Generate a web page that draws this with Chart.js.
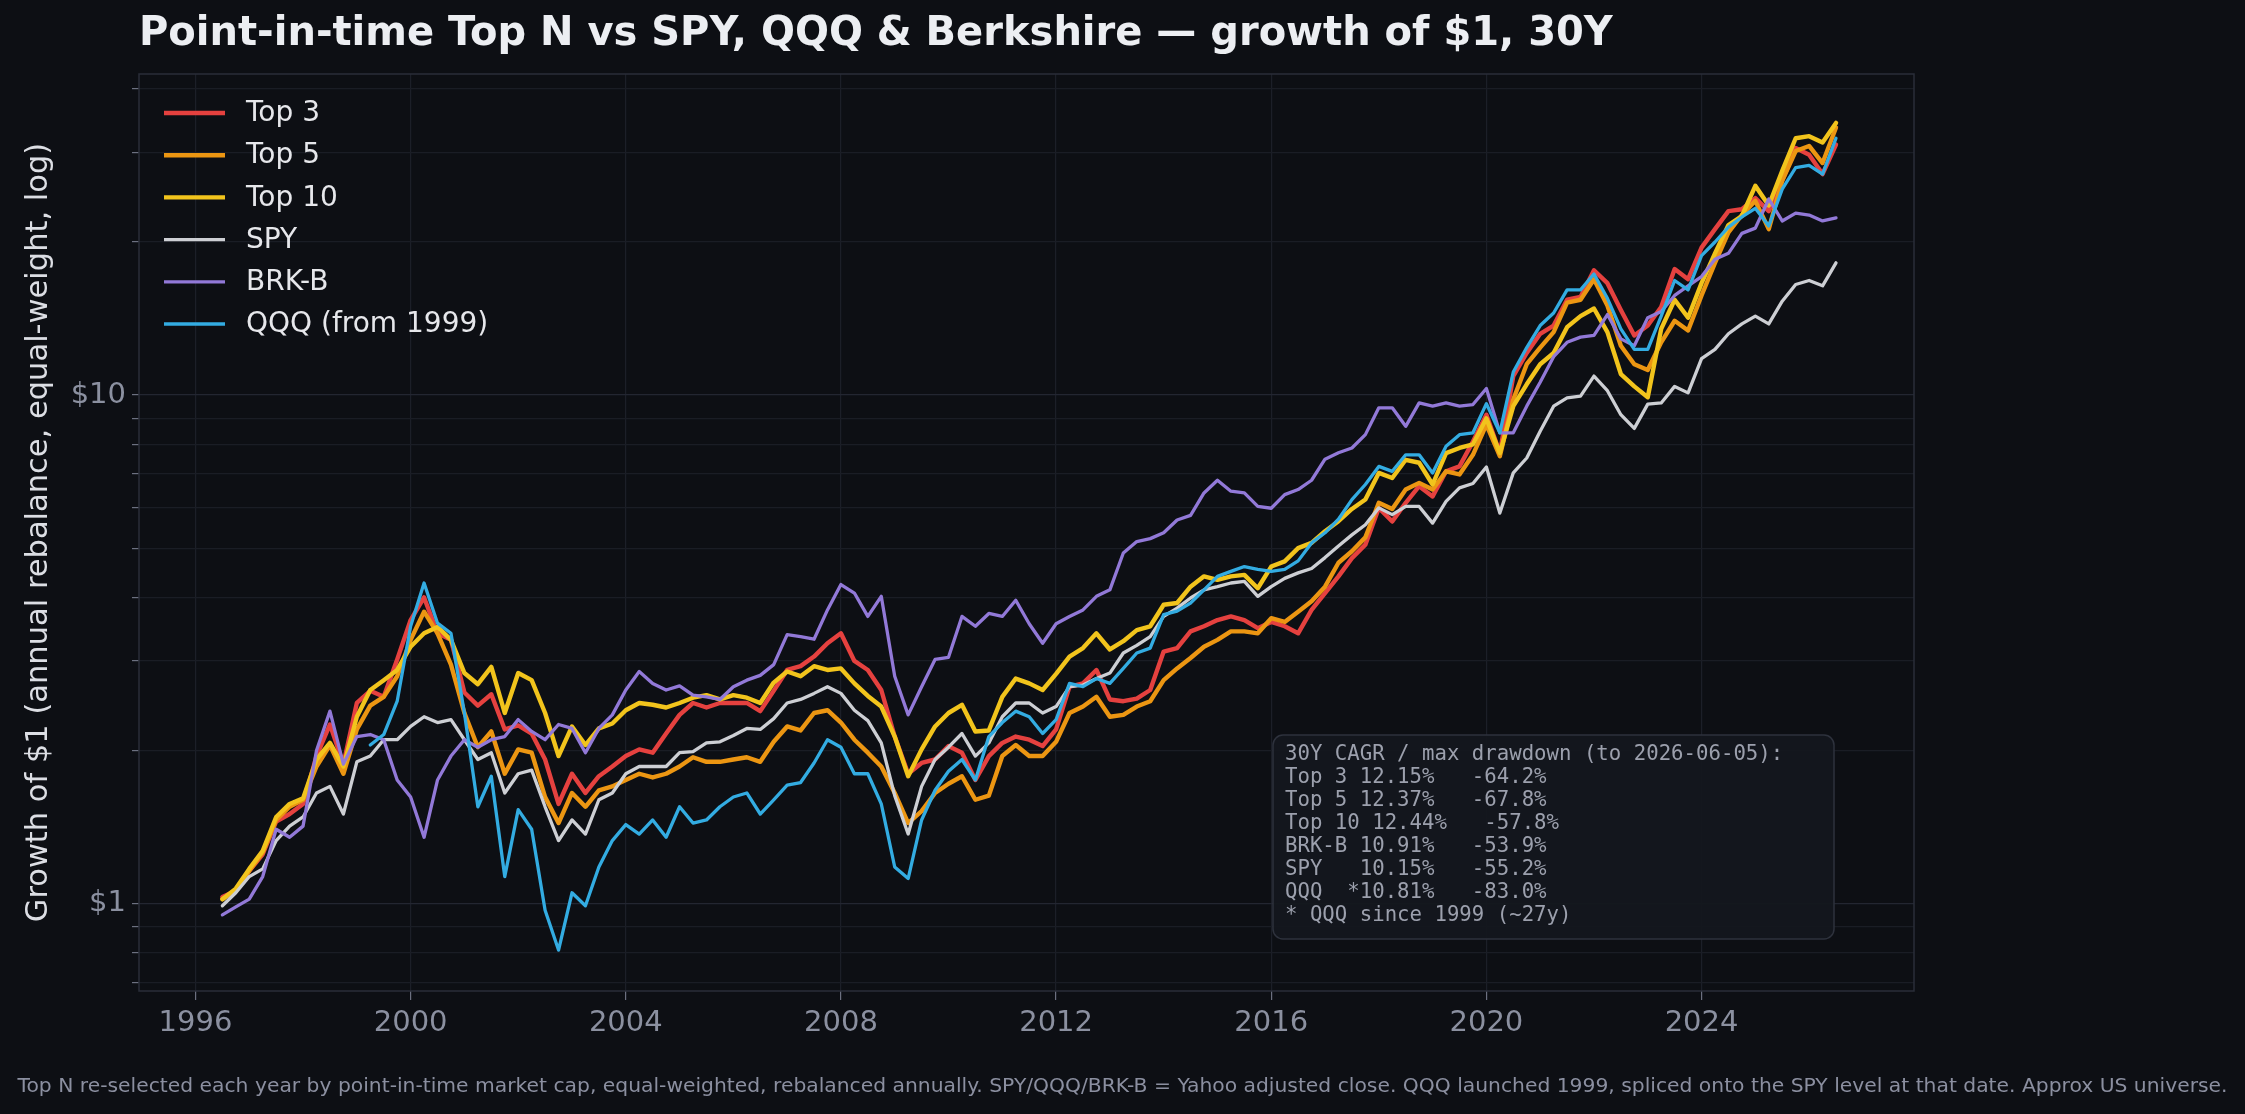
<!DOCTYPE html>
<html>
<head>
<meta charset="utf-8">
<title>Point-in-time Top N vs SPY, QQQ & Berkshire</title>
<script src="https://cdn.jsdelivr.net/npm/chart.js@4.4.1/dist/chart.umd.min.js"></script>
<style>
  html, body { margin: 0; padding: 0; background: #0d0f14; }
  #wrap { width: 2245px; height: 1114px; }
</style>
</head>
<body>
<div id="wrap"><canvas id="growthChart" width="2245" height="1114"></canvas></div>
<script>
// Growth of $1 (mid-1996 .. mid-2026)
const startYear = 1996.5;
const stepYears = 0.25;

const top3 = [
  1.03, 1.06, 1.16, 1.25, 1.45, 1.50, 1.57, 1.95,
  2.25, 1.88, 2.48, 2.62, 2.55, 3.02, 3.61, 4.00,
  3.40, 3.30, 2.60, 2.45, 2.58, 2.20, 2.24, 2.16,
  1.92, 1.57, 1.80, 1.65, 1.78, 1.86, 1.95, 2.01,
  1.98, 2.16, 2.35, 2.48, 2.43, 2.48, 2.48, 2.48,
  2.39, 2.62, 2.88, 2.93, 3.06, 3.25, 3.40, 3.00,
  2.88, 2.63, 2.13, 1.80, 1.89, 1.92, 2.04, 1.98,
  1.75, 1.95, 2.07, 2.13, 2.10, 2.04, 2.20, 2.67,
  2.71, 2.88, 2.52, 2.50, 2.53, 2.63, 3.13, 3.18,
  3.43, 3.51, 3.61, 3.67, 3.61, 3.48, 3.58, 3.51,
  3.40, 3.78, 4.08, 4.40, 4.78, 5.08, 6.00, 5.64,
  6.14, 6.62, 6.32, 7.08, 7.24, 8.10, 9.15, 7.69,
  10.9, 12.1, 13.2, 13.7, 15.4, 15.6, 17.6, 16.6,
  14.7, 13.1, 13.7, 14.9, 17.7, 16.9, 19.5, 21.2,
  23.0, 23.2, 24.4, 23.0, 26.4, 30.6, 29.7, 27.2,
  31.1
];

const top5 = [
  1.02, 1.06, 1.16, 1.26, 1.46, 1.55, 1.60, 1.86,
  2.05, 1.80, 2.20, 2.45, 2.55, 2.80, 3.30, 3.75,
  3.40, 2.95, 2.37, 2.03, 2.18, 1.80, 2.01, 1.98,
  1.62, 1.44, 1.65, 1.55, 1.67, 1.70, 1.75, 1.80,
  1.77, 1.80, 1.86, 1.94, 1.90, 1.90, 1.92, 1.94,
  1.90, 2.08, 2.23, 2.19, 2.37, 2.40, 2.27, 2.10,
  1.98, 1.86, 1.65, 1.44, 1.52, 1.65, 1.72, 1.78,
  1.60, 1.63, 1.95, 2.05, 1.95, 1.95, 2.08, 2.37,
  2.44, 2.55, 2.33, 2.35, 2.44, 2.50, 2.75, 2.90,
  3.04, 3.20, 3.30, 3.43, 3.43, 3.40, 3.64, 3.58,
  3.75, 3.93, 4.20, 4.68, 4.93, 5.25, 6.14, 5.97,
  6.52, 6.72, 6.52, 7.08, 6.98, 7.63, 8.75, 7.58,
  9.80, 11.5, 12.4, 13.3, 15.2, 15.4, 16.9, 15.0,
  12.5, 11.5, 11.2, 12.7, 14.0, 13.4, 15.7, 18.2,
  20.9, 22.6, 24.1, 21.2, 26.4, 30.2, 30.9, 28.6,
  33.6
];

const top10 = [
  1.02, 1.07, 1.17, 1.27, 1.48, 1.57, 1.61, 1.92,
  2.07, 1.86, 2.33, 2.63, 2.75, 2.88, 3.20, 3.40,
  3.50, 3.30, 2.84, 2.70, 2.92, 2.37, 2.84, 2.75,
  2.37, 1.95, 2.23, 2.05, 2.21, 2.26, 2.40, 2.48,
  2.46, 2.43, 2.48, 2.54, 2.57, 2.52, 2.57, 2.54,
  2.48, 2.72, 2.86, 2.80, 2.93, 2.88, 2.90, 2.71,
  2.56, 2.44, 2.13, 1.78, 2.01, 2.23, 2.37, 2.46,
  2.18, 2.19, 2.55, 2.77, 2.71, 2.63, 2.83, 3.06,
  3.18, 3.40, 3.16, 3.28, 3.45, 3.51, 3.87, 3.90,
  4.20, 4.40, 4.33, 4.40, 4.43, 4.17, 4.60, 4.71,
  5.00, 5.12, 5.40, 5.65, 5.97, 6.23, 7.03, 6.87,
  7.46, 7.36, 6.67, 7.69, 7.87, 8.00, 9.00, 7.69,
  9.51, 10.5, 11.5, 12.1, 13.6, 14.3, 14.8, 13.3,
  11.0, 10.4, 9.90, 13.5, 15.4, 14.2, 16.6, 19.0,
  21.6, 22.5, 25.8, 23.6, 27.6, 32.0, 32.3, 31.4,
  34.3
];

const spy = [
  0.99, 1.05, 1.13, 1.17, 1.33, 1.42, 1.48, 1.65,
  1.70, 1.50, 1.90, 1.95, 2.10, 2.10, 2.23, 2.33,
  2.27, 2.30, 2.10, 1.92, 1.98, 1.65, 1.80, 1.83,
  1.55, 1.33, 1.46, 1.37, 1.60, 1.65, 1.80, 1.86,
  1.86, 1.86, 1.98, 1.99, 2.07, 2.08, 2.14, 2.21,
  2.20, 2.31, 2.48, 2.52, 2.59, 2.67, 2.59, 2.40,
  2.29, 2.07, 1.63, 1.37, 1.70, 1.92, 2.03, 2.16,
  1.95, 2.07, 2.33, 2.48, 2.48, 2.37, 2.44, 2.67,
  2.69, 2.77, 2.84, 3.11, 3.22, 3.35, 3.67, 3.81,
  3.99, 4.14, 4.20, 4.27, 4.30, 4.02, 4.20, 4.36,
  4.47, 4.56, 4.79, 5.05, 5.31, 5.56, 6.00, 5.82,
  6.04, 6.04, 5.60, 6.18, 6.57, 6.70, 7.22, 5.86,
  7.03, 7.52, 8.49, 9.51, 9.87, 9.95, 10.9, 10.2,
  9.15, 8.60, 9.60, 9.65, 10.4, 10.1, 11.8, 12.3,
  13.2, 13.8, 14.3, 13.8, 15.3, 16.5, 16.8, 16.4,
  18.2
];

const brkB = [
  0.95, 0.985, 1.02, 1.13, 1.40, 1.35, 1.42, 2.00,
  2.39, 1.88, 2.13, 2.15, 2.10, 1.75, 1.62, 1.35,
  1.75, 1.95, 2.10, 2.03, 2.10, 2.13, 2.30, 2.18,
  2.10, 2.25, 2.21, 1.98, 2.21, 2.35, 2.63, 2.86,
  2.71, 2.63, 2.68, 2.57, 2.55, 2.52, 2.67, 2.75,
  2.81, 2.95, 3.38, 3.35, 3.31, 3.78, 4.24, 4.08,
  3.67, 4.02, 2.80, 2.35, 2.67, 3.02, 3.05, 3.67,
  3.51, 3.72, 3.67, 3.95, 3.55, 3.25, 3.55, 3.67,
  3.78, 4.02, 4.14, 4.89, 5.15, 5.22, 5.36, 5.68,
  5.80, 6.42, 6.80, 6.47, 6.42, 6.04, 5.99, 6.37,
  6.52, 6.80, 7.48, 7.70, 7.87, 8.36, 9.44, 9.44,
  8.68, 9.65, 9.51, 9.65, 9.51, 9.58, 10.3, 8.43,
  8.43, 9.51, 10.6, 11.9, 12.7, 13.0, 13.1, 14.4,
  12.9, 12.5, 14.2, 14.6, 15.7, 16.4, 17.1, 18.5,
  19.0, 20.8, 21.3, 24.3, 22.0, 22.8, 22.6, 22.0,
  22.3
];

// QQQ only exists from 1999 (spliced onto the SPY level)
const qqq = [
  null, null, null, null, null, null, null, null,
  null, null, null, 2.05, 2.15, 2.50, 3.51, 4.27,
  3.56, 3.40, 2.37, 1.55, 1.78, 1.13, 1.53, 1.40,
  0.97, 0.81, 1.05, 0.99, 1.18, 1.33, 1.43, 1.37,
  1.46, 1.35, 1.55, 1.44, 1.46, 1.55, 1.62, 1.65,
  1.50, 1.60, 1.71, 1.73, 1.89, 2.10, 2.03, 1.80,
  1.80, 1.57, 1.18, 1.12, 1.46, 1.67, 1.82, 1.92,
  1.75, 2.13, 2.27, 2.39, 2.33, 2.16, 2.30, 2.71,
  2.67, 2.77, 2.71, 2.90, 3.11, 3.18, 3.70, 3.76,
  3.90, 4.14, 4.40, 4.50, 4.60, 4.54, 4.50, 4.54,
  4.72, 5.12, 5.36, 5.70, 6.23, 6.67, 7.24, 7.08,
  7.63, 7.63, 7.03, 7.93, 8.36, 8.43, 9.62, 8.43,
  11.1, 12.4, 13.7, 14.5, 16.1, 16.1, 17.3, 15.5,
  13.5, 12.3, 12.3, 14.3, 16.8, 16.1, 18.8, 20.0,
  21.4, 22.4, 23.3, 21.5, 25.4, 28.0, 28.3, 27.2,
  32.0
];

const xTicks = [1996, 2000, 2004, 2008, 2012, 2016, 2020, 2024];
const yTicks = [0.7, 0.8, 0.9, 1, 2, 3, 4, 5, 6, 7, 8, 9, 10, 20, 30, 40];
const yLabels = { 1: '$1', 10: '$10' };

const statsLines = [
  '30Y CAGR / max drawdown (to 2026-06-05):',
  'Top 3 12.15%   -64.2%',
  'Top 5 12.37%   -67.8%',
  'Top 10 12.44%   -57.8%',
  'BRK-B 10.91%   -53.9%',
  'SPY   10.15%   -55.2%',
  'QQQ  *10.81%   -83.0%',
  '* QQQ since 1999 (~27y)'
];

const series = [
  { label: 'Top 3', data: top3, color: '#e5413f', width: 4.4, order: 6 },
  { label: 'Top 5', data: top5, color: '#ec9612', width: 4.4, order: 5 },
  { label: 'Top 10', data: top10, color: '#f2c41c', width: 4.4, order: 4 },
  { label: 'SPY', data: spy, color: '#cdcfd4', width: 3.3, order: 3 },
  { label: 'BRK-B', data: brkB, color: '#9279d8', width: 3.3, order: 2 },
  { label: 'QQQ (from 1999)', data: qqq, color: '#33ace2', width: 3.3, order: 1 }
];

function toPoints(values) {
  return values.map((v, i) => ({ x: startYear + i * stepYears, y: v }));
}

// background, frame, title, legend, stats box and footer
const chartDecor = {
  id: 'chartDecor',
  beforeDraw(chart) {
    const ctx = chart.ctx;
    ctx.save();
    ctx.fillStyle = '#0d0f14';
    ctx.fillRect(0, 0, chart.width, chart.height);
    ctx.restore();
  },
  afterDatasetsDraw(chart) {
    const ctx = chart.ctx;
    const a = chart.chartArea;
    ctx.save();
    ctx.strokeStyle = '#2a2e39';
    ctx.lineWidth = 1.5;
    ctx.strokeRect(a.left, a.top, a.right - a.left, a.bottom - a.top);
    ctx.restore();
  },
  afterDraw(chart) {
    const ctx = chart.ctx;
    const a = chart.chartArea;
    ctx.save();

    // title
    ctx.fillStyle = '#eceef2';
    ctx.font = "bold 40px 'DejaVu Sans'";
    ctx.textBaseline = 'middle';
    ctx.textAlign = 'left';
    ctx.fillText('Point-in-time Top N vs SPY, QQQ & Berkshire \u2014 growth of $1, 30Y', a.left, 35);

    // legend
    ctx.font = "28px 'DejaVu Sans'";
    series.forEach((s, i) => {
      const y = 113 + i * 42.2;
      ctx.strokeStyle = s.color;
      ctx.lineWidth = s.width;
      ctx.beginPath();
      ctx.moveTo(a.left + 25, y);
      ctx.lineTo(a.left + 86, y);
      ctx.stroke();
      ctx.fillStyle = '#e6e7eb';
      ctx.fillText(s.label, a.left + 107, y + 1);
    });

    // stats box
    const bx = 1273, by = 735, bw = 561, bh = 204;
    ctx.beginPath();
    ctx.roundRect(bx, by, bw, bh, 10);
    ctx.fillStyle = 'rgba(20, 23, 30, 0.95)';
    ctx.fill();
    ctx.strokeStyle = '#2e323d';
    ctx.lineWidth = 1.5;
    ctx.stroke();
    ctx.fillStyle = '#9ca0ad';
    ctx.font = "20.7px 'DejaVu Sans Mono'";
    statsLines.forEach((t, i) => {
      ctx.fillText(t, bx + 12, by + 20 + i * 23);
    });

    // footer
    ctx.fillStyle = '#8b8fa0';
    ctx.font = "20.3px 'DejaVu Sans'";
    ctx.textAlign = 'center';
    ctx.fillText('Top N re-selected each year by point-in-time market cap, equal-weighted, rebalanced annually. SPY/QQQ/BRK-B = Yahoo adjusted close. QQQ launched 1999, spliced onto the SPY level at that date. Approx US universe.', chart.width / 2, 1087);

    ctx.restore();
  }
};

Chart.defaults.font.family = "'DejaVu Sans', sans-serif";

const ctx = document.getElementById('growthChart').getContext('2d');
const growthChart = new Chart(ctx, {
  type: 'line',
  data: {
    datasets: series.map(s => ({
      label: s.label,
      data: toPoints(s.data),
      borderColor: s.color,
      backgroundColor: s.color,
      borderWidth: s.width,
      order: s.order,
      pointRadius: 0,
      tension: 0,
      fill: false,
      borderJoinStyle: 'round',
      borderCapStyle: 'round'
    }))
  },
  options: {
    responsive: false,
    animation: false,
    devicePixelRatio: 1,
    layout: { padding: { left: 0, top: 74, right: 331, bottom: 0 } },
    plugins: {
      legend: { display: false },
      title: { display: false },
      tooltip: { enabled: false }
    },
    scales: {
      x: {
        type: 'linear',
        min: 1994.95,
        max: 2027.95,
        afterBuildTicks: (scale) => { scale.ticks = xTicks.map(v => ({ value: v })); },
        afterFit: (scale) => { scale.height = 123; },
        border: { display: false },
        grid: { color: '#1c1f28', lineWidth: 1.2, tickLength: 9, tickColor: '#6c7080' },
        ticks: {
          color: '#8b90a0',
          font: { size: 29 },
          padding: 6,
          maxRotation: 0,
          callback: (v) => String(v)
        }
      },
      y: {
        type: 'logarithmic',
        min: 0.673,
        max: 42.8,
        afterBuildTicks: (scale) => { scale.ticks = yTicks.map(v => ({ value: v })); },
        afterFit: (scale) => { scale.width = 139; },
        border: { display: false },
        grid: {
          color: (c) => (yLabels[c.tick && c.tick.value] ? '#232631' : '#1a1d25'),
          lineWidth: 1.2,
          tickLength: 7,
          tickColor: '#6c7080'
        },
        ticks: {
          color: '#8b90a0',
          font: { size: 29 },
          padding: 6,
          autoSkip: false,
          callback: (v) => yLabels[v] || ''
        },
        title: {
          display: true,
          text: 'Growth of $1 (annual rebalance, equal-weight, log)',
          color: '#dcdee4',
          font: { size: 30.5 },
          padding: { top: 21, bottom: 0 }
        }
      }
    }
  },
  plugins: [chartDecor]
});
</script>
</body>
</html>
